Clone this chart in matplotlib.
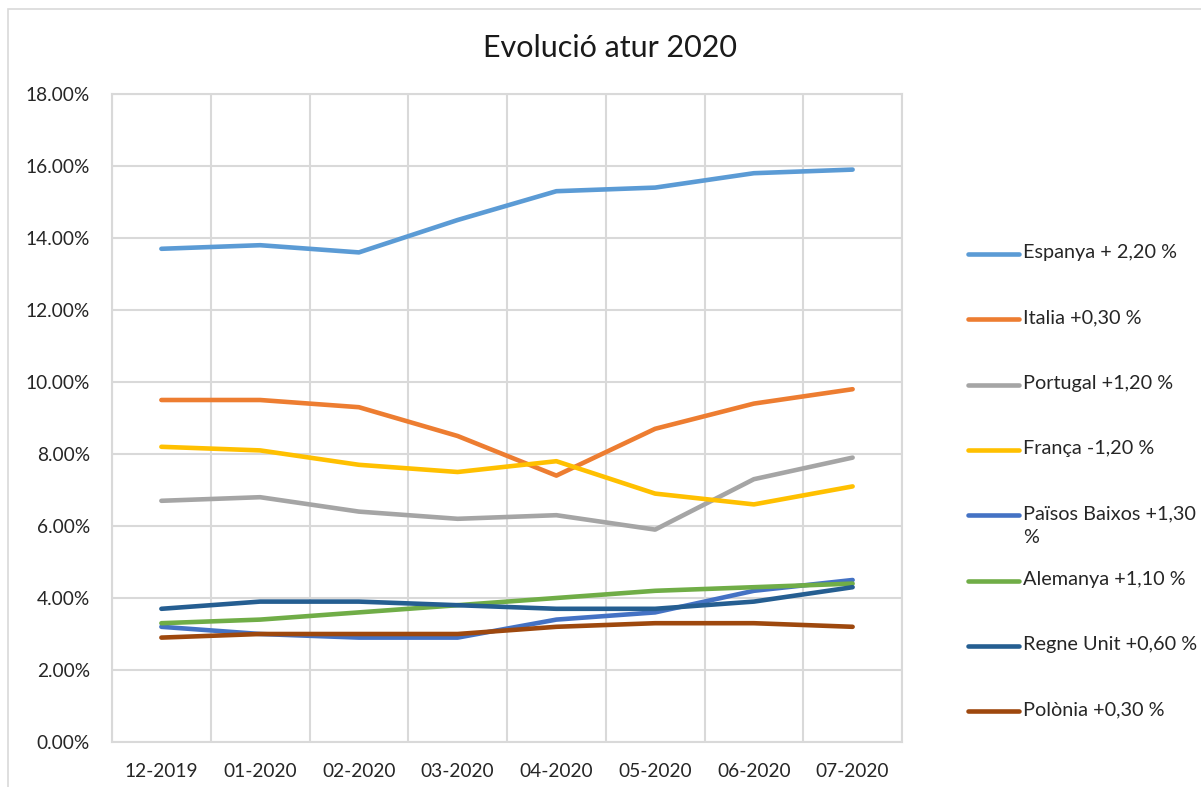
import matplotlib
matplotlib.use("Agg")
import matplotlib.pyplot as plt
from matplotlib.lines import Line2D
from matplotlib.patches import Rectangle
from matplotlib.ticker import FixedLocator, FuncFormatter

months = ["12-2019", "01-2020", "02-2020", "03-2020", "04-2020", "05-2020", "06-2020", "07-2020"]

espanya = [13.7, 13.8, 13.6, 14.5, 15.3, 15.4, 15.8, 15.9]
italia = [9.5, 9.5, 9.3, 8.5, 7.4, 8.7, 9.4, 9.8]
portugal = [6.7, 6.8, 6.4, 6.2, 6.3, 5.9, 7.3, 7.9]
franca = [8.2, 8.1, 7.7, 7.5, 7.8, 6.9, 6.6, 7.1]
paisos_baixos = [3.2, 3.0, 2.9, 2.9, 3.4, 3.6, 4.2, 4.5]
alemanya = [3.3, 3.4, 3.6, 3.8, 4.0, 4.2, 4.3, 4.4]
regne_unit = [3.7, 3.9, 3.9, 3.8, 3.7, 3.7, 3.9, 4.3]
polonia = [2.9, 3.0, 3.0, 3.0, 3.2, 3.3, 3.3, 3.2]

labels = ["Espanya + 2,20 %", "Italia +0,30 %", "Portugal +1,20 %", "França -1,20 %",
          "Països Baixos +1,30\n%", "Alemanya +1,10 %", "Regne Unit +0,60 %", "Polònia +0,30 %"]
colors = ["#5B9BD5", "#ED7D31", "#A5A5A5", "#FFC000", "#4472C4", "#70AD47", "#255E91", "#9E480E"]
series = [espanya, italia, portugal, franca, paisos_baixos, alemanya, regne_unit, polonia]

plt.rcParams["font.family"] = ["Lato", "DejaVu Sans"]

W, H = 1201, 787
fig = plt.figure(figsize=(W / 100, H / 100), dpi=100)
fig.patch.set_facecolor("white")

# chart area border (cropped at right/bottom like the screenshot)
fig.add_artist(Rectangle((8 / W, -0.1), 1.2, 1 - 9 / H + 0.1, transform=fig.transFigure,
                         fill=False, edgecolor="#D9D9D9", lw=1.2))

ax = fig.add_axes([112 / W, 1 - 742 / H, 790 / W, 648 / H])
x = list(range(len(months)))
for vals, c in zip(series, colors):
    ax.plot(x, vals, color=c, lw=3.3, solid_capstyle="round", solid_joinstyle="round", zorder=3)

ax.set_xlim(-0.5, len(months) - 0.5)
ax.set_ylim(0, 18)
ax.set_yticks(range(0, 19, 2))
ax.yaxis.set_major_formatter(FuncFormatter(lambda v, p: f"{v:.2f}%"))
ax.set_xticks(x)
ax.set_xticklabels(months)
ax.xaxis.set_minor_locator(FixedLocator([i - 0.5 for i in range(len(months) + 1)]))
ax.grid(True, which="minor", axis="x", color="#D9D9D9", lw=1.5)
ax.grid(True, which="major", axis="y", color="#D9D9D9", lw=1.5)
ax.set_axisbelow(True)
ax.tick_params(which="both", length=0)
ax.tick_params(axis="x", pad=15, labelsize=13.8, labelcolor="#262626")
ax.tick_params(axis="y", pad=16, labelsize=13.8, labelcolor="#262626")
for s in ax.spines.values():
    s.set_color("#D9D9D9")
    s.set_linewidth(1.5)

fig.text(610 / W, 1 - 48 / H, "Evolució atur 2020", ha="center", va="center",
         fontsize=22, color="#1a1a1a")

# legend drawn by hand to mimic the Excel layout
y0, step = 254, 65.3
for i, (lab, c) in enumerate(zip(labels, colors)):
    yc = 1 - (y0 + i * step) / H
    fig.add_artist(Line2D([968 / W, 1019 / W], [yc, yc], transform=fig.transFigure,
                          color=c, lw=3.3, solid_capstyle="round"))
    fig.text(1023 / W, yc + 10 / H, lab, ha="left", va="top", fontsize=14.3,
             color="#262626", linespacing=1.5)

fig.savefig("out.png", dpi=100, facecolor="white")
